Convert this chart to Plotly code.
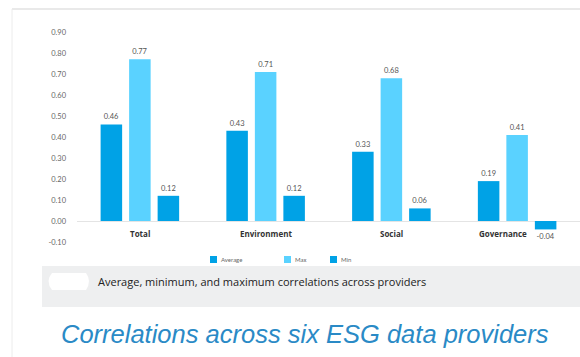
import plotly.graph_objects as go

categories = ["Total", "Environment", "Social", "Governance"]
average = [0.46, 0.43, 0.33, 0.19]
maximum = [0.77, 0.71, 0.68, 0.41]
minimum = [0.12, 0.12, 0.06, -0.04]
series_names = ["Average", "Max", "Min"]
y_ticks = [-0.10, 0.00, 0.10, 0.20, 0.30, 0.40, 0.50, 0.60, 0.70, 0.80, 0.90]
caption = "Average, minimum, and maximum correlations across providers"
title = "Correlations across six ESG data providers"

DARK = "#00a2e6"
LIGHT = "#5ad2ff"
colors = [DARK, LIGHT, DARK]
lab_font = dict(family="Lato", size=7.5, color="#555555")

fig = go.Figure()
for name, vals, col in zip(series_names, [average, maximum, minimum], colors):
    fig.add_trace(go.Bar(
        x=categories, y=vals, name=name, marker_color=col, marker_line_width=0,
        text=[f"{v:.2f}" for v in vals], textposition="outside",
        textfont=lab_font, cliponaxis=False, showlegend=False,
    ))

W, H = 580, 357
L, R, T, B = 77, 0, 20, 107
PW, PH = W - L - R, H - T - B

def dx(x):
    return (x - L) / PW

def dy(y):
    return (H - B - y) / PH

fig.update_layout(
    width=W, height=H,
    margin=dict(l=L, r=R, t=T, b=B, pad=0),
    paper_bgcolor="white", plot_bgcolor="white",
    barmode="group", bargap=0.32, bargroupgap=0.245,
    showlegend=False,
    uniformtext=dict(minsize=6, mode="show"),
)
fig.update_xaxes(range=[-0.5, 3.5], showticklabels=False, showgrid=False, showline=False,
                 zeroline=False, ticks="")
fig.update_yaxes(range=[-0.138, 0.957], tickvals=y_ticks,
                 ticktext=[f"{v:.2f}" for v in y_ticks],
                 tickfont=dict(family="Lato", size=7.5, color="#666666"),
                 showgrid=False, showline=False, zeroline=True, zerolinecolor="#e4e4e4",
                 zerolinewidth=1, ticks="", ticklabelstandoff=10)

# category labels under the zero line
for c in categories:
    fig.add_annotation(x=c, y=0, xref="x", yref="y", text=f"<b>{c}</b>", showarrow=False,
                       yanchor="top", yshift=-5, xshift=(-14 if c == "Governance" else 0),
                       font=dict(family="Open Sans", size=8, color="#333333"))

# panel borders
fig.add_shape(type="line", xref="x domain", yref="y domain",
              x0=dx(12), x1=1.0, y0=dy(9), y1=dy(9),
              line=dict(color="#e2e2e2", width=1.5), layer="below")
fig.add_shape(type="line", xref="x domain", yref="y domain",
              x0=dx(12), x1=dx(12), y0=dy(9), y1=dy(357),
              line=dict(color="#ececec", width=1), layer="below")
# caption box
fig.add_shape(type="rect", xref="x domain", yref="y domain",
              x0=dx(42), x1=1.0, y0=dy(266), y1=dy(307),
              fillcolor="#eeeff0", line=dict(width=0), layer="below")
fig.add_shape(type="path", xref="x domain", yref="y domain",
              path=(f"M {dx(52)},{dy(273)} L {dx(86)},{dy(273)} Q {dx(92)},{dy(281)} {dx(86)},{dy(290)} "
                    f"L {dx(52)},{dy(290)} Q {dx(45)},{dy(281)} {dx(52)},{dy(273)} Z"),
              fillcolor="#ffffff", line=dict(width=0), layer="below")

# legend (small squares + labels)
leg_x = [210, 284, 330]
for name, col, lx in zip(series_names, colors, leg_x):
    fig.add_shape(type="rect", xref="x domain", yref="y domain",
                  x0=dx(lx), x1=dx(lx + 7), y0=dy(256), y1=dy(263),
                  fillcolor=col, line=dict(width=0))
    fig.add_annotation(xref="x domain", yref="y domain", x=dx(lx + 9), y=dy(259.5),
                       xanchor="left", yanchor="middle", text=name, showarrow=False,
                       font=dict(family="Lato", size=6, color="#666666"))

fig.add_annotation(xref="x domain", yref="y domain", x=dx(96), y=dy(281),
                   xanchor="left", yanchor="middle", text=caption, showarrow=False,
                   font=dict(family="Open Sans", size=11, color="#222222"))
fig.add_annotation(xref="x domain", yref="y domain", x=dx(305), y=dy(334),
                   xanchor="center", yanchor="middle", text=f"<i>{title}</i>", showarrow=False,
                   font=dict(family="Liberation Sans", size=25.5, color="#2a8ac6"))

fig.write_html("out.html")
